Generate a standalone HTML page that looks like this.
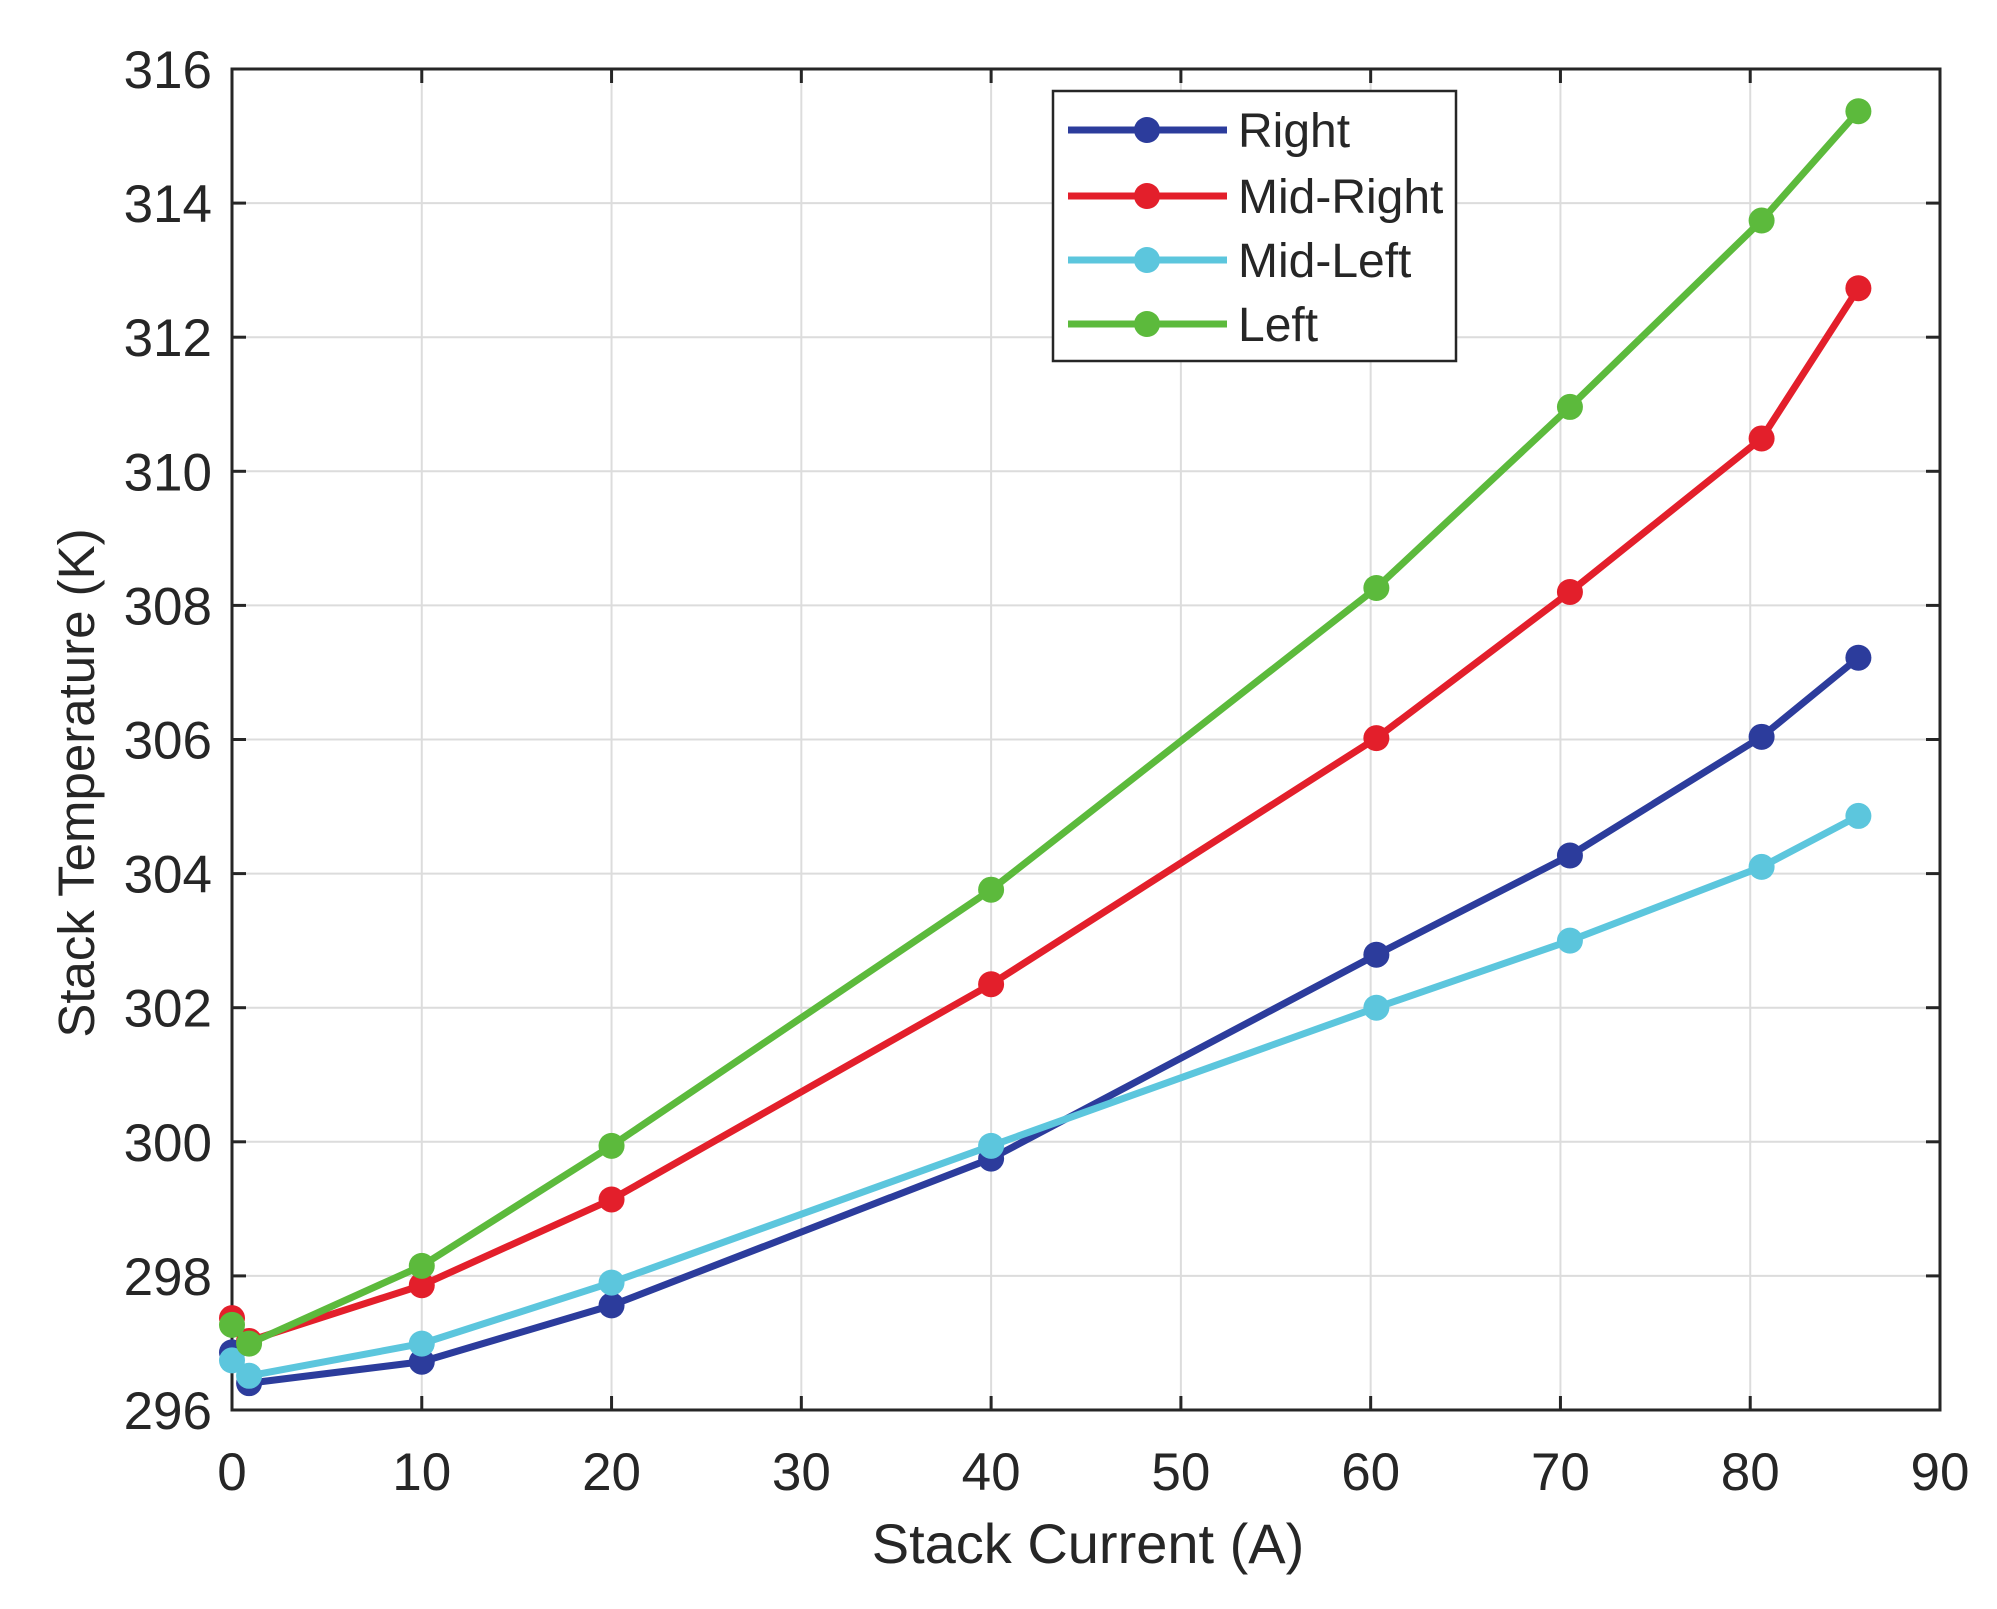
<!DOCTYPE html>
<html><head><meta charset="utf-8"><style>
body{margin:0;background:#fff;}
svg{display:block;font-family:"Liberation Sans",Arial,sans-serif;}
</style></head><body>
<svg id="chart" width="1997" height="1609" viewBox="0 0 1997 1609"></svg>
<script>
const xValues=[0,0.9,10,20,40,60.3,70.5,80.6,85.7];
const seriesNames=["Right","Mid-Right","Mid-Left","Left"];
const rightVals=[296.86,296.4,296.72,297.56,299.75,302.79,304.27,306.04,307.22];
const midRightVals=[297.37,297.03,297.86,299.14,302.35,306.02,308.2,310.49,312.73];
const midLeftVals=[296.74,296.51,296.99,297.9,299.94,302.0,303.0,304.1,304.86];
const leftVals=[297.27,296.99,298.15,299.94,303.76,308.26,310.96,313.74,315.37];
const xTicks=[0,10,20,30,40,50,60,70,80,90];
const yTicks=[296,298,300,302,304,306,308,310,312,314,316];
const colors=["#2c3c9c","#e31f2b","#5cc6dd","#5cba3c"];
const allVals=[rightVals,midRightVals,midLeftVals,leftVals];

const L=232,R=1940,T=69,B=1410;
const X=v=>L+(v-0)/(90-0)*(R-L);
const Y=v=>B-(v-296)/(316-296)*(B-T);
const NS="http://www.w3.org/2000/svg";
const svg=document.getElementById('chart');
function mk(t,a,p){const e=document.createElementNS(NS,t);for(const k in a)e.setAttribute(k,a[k]);(p||svg).appendChild(e);return e;}

mk('rect',{x:L,y:T,width:R-L,height:B-T,fill:'#fff'});
xTicks.forEach(t=>{
  const g=mk('line',{x1:X(t),x2:X(t),y1:T,y2:B,stroke:'#dcdcdc','stroke-width':2});
  
  
  mk('line',{x1:X(t),x2:X(t),y1:B,y2:B-14,stroke:'#262626','stroke-width':3});
  mk('line',{x1:X(t),x2:X(t),y1:T,y2:T+14,stroke:'#262626','stroke-width':3});
  const tx=mk('text',{x:X(t),y:1490,'font-size':53,'text-anchor':'middle',fill:'#262626'});
  tx.textContent=t;
  
  
});
yTicks.forEach(t=>{
  const g=mk('line',{x1:L,x2:R,y1:Y(t),y2:Y(t),stroke:'#dcdcdc','stroke-width':2});
  
  
  mk('line',{x1:L,x2:L+14,y1:Y(t),y2:Y(t),stroke:'#262626','stroke-width':3});
  mk('line',{x1:R,x2:R-14,y1:Y(t),y2:Y(t),stroke:'#262626','stroke-width':3});
  const tx=mk('text',{x:212,y:Y(t)+19,'font-size':53,'text-anchor':'end',fill:'#262626'});
  tx.textContent=t;
  
  
});
const box=mk('rect',{x:L,y:T,width:R-L,height:B-T,fill:'none',stroke:'#262626','stroke-width':3});



allVals.forEach((vals,i)=>{
  const g=mk('g',{});
  
  
  const pts=vals.map((v,j)=>X(xValues[j])+','+Y(v)).join(' ');
  mk('polyline',{points:pts,fill:'none',stroke:colors[i],'stroke-width':7,'stroke-linejoin':'round'},g);
  vals.forEach((v,j)=>{
    const c=mk('circle',{cx:X(xValues[j]),cy:Y(v),r:13,fill:colors[i]},g);
    
    
  });
});

const xt=mk('text',{x:1088,y:1563,'font-size':56,'text-anchor':'middle',fill:'#262626'});
xt.textContent='Stack Current (A)';


const yt=mk('text',{x:0,y:0,'font-size':51,'text-anchor':'middle',fill:'#262626',transform:'translate(94,783) rotate(-90)'});
yt.textContent='Stack Temperature (K)';



const lg=mk('g',{});


mk('rect',{x:1053,y:91,width:403,height:270,fill:'#fff',stroke:'#262626','stroke-width':2.5},lg);
const rows=[130,196,260,324];
seriesNames.forEach((n,i)=>{
  const e=mk('g',{},lg);
  
  
  mk('line',{x1:1068,x2:1227,y1:rows[i],y2:rows[i],stroke:colors[i],'stroke-width':7},e);
  mk('circle',{cx:1147,cy:rows[i],r:13,fill:colors[i]},e);
  const t=mk('text',{x:1238,y:rows[i]+17,'font-size':48,fill:'#262626'},e);
  t.textContent=n;
});
</script>
</body></html>
